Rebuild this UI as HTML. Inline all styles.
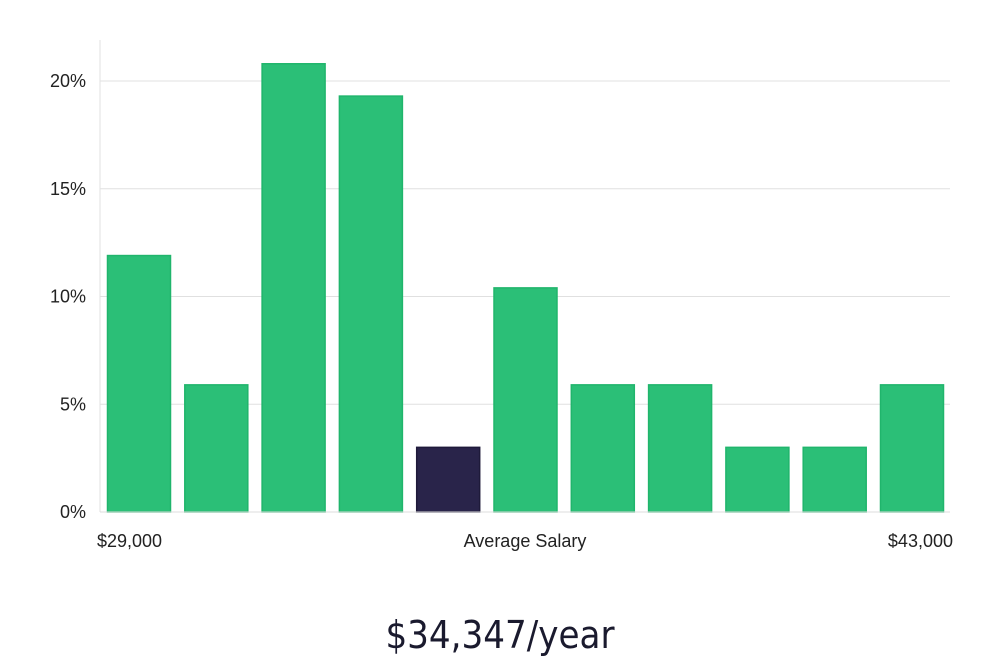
<!DOCTYPE html>
<html><head><meta charset="utf-8"><style>
body{margin:0;background:#fff;font-family:"Liberation Sans","DejaVu Sans",sans-serif;}
svg{display:block}
</style></head><body>
<svg id="chart" width="1000" height="660">
<g id="grid"></g><g id="bars"></g><g id="labels"></g>
<line x1="100" y1="40" x2="100" y2="512" stroke="#e2e2e2"/>
<line x1="100" y1="512" x2="950" y2="512" stroke="#dcdcdc"/>
<text x="97" y="547" font-size="18" fill="#222">$29,000</text>
<text x="525" y="547" font-size="18" fill="#222" text-anchor="middle">Average Salary</text>
<text x="953" y="547" font-size="18" fill="#222" text-anchor="end">$43,000</text>
<text x="500" y="648" font-size="38" fill="#1a1a2e" text-anchor="middle" font-family="'DejaVu Sans Condensed','DejaVu Sans',sans-serif" font-weight="300">$34,347/year</text>
</svg>
<script>
const values=[11.9,5.9,20.8,19.3,3.0,10.4,5.9,5.9,3.0,3.0,5.9];
const highlight=[false,false,false,false,true,false,false,false,false,false,false];
const ticks=[0,5,10,15,20];
const tickLabels=["0%","5%","10%","15%","20%"];
const NS="http://www.w3.org/2000/svg";
const y0=512,pxPer=(512-81)/20,x0=103.5,step=77.3,bw=63;
const y=v=>y0-v*pxPer;
const grid=document.getElementById('grid'),bars=document.getElementById('bars'),labels=document.getElementById('labels');
ticks.forEach((t,i)=>{
 const l=document.createElementNS(NS,'line');
 l.setAttribute('x1',100);l.setAttribute('x2',950);l.setAttribute('y1',y(t));l.setAttribute('y2',y(t));
 l.setAttribute('stroke','#e0e0e0');
 
 
 grid.appendChild(l);
 const tx=document.createElementNS(NS,'text');
 tx.setAttribute('x',86);tx.setAttribute('y',y(t)+6);tx.setAttribute('text-anchor','end');
 tx.setAttribute('font-size','18');tx.setAttribute('fill','#222');tx.textContent=tickLabels[i];
 
 
 labels.appendChild(tx);
});
values.forEach((v,i)=>{
 const r=document.createElementNS(NS,'rect');
 r.setAttribute('x',x0+i*step+4);r.setAttribute('width',bw);
 r.setAttribute('y',y(v));r.setAttribute('height',y0-y(v));
 r.setAttribute('fill',highlight[i]?'#29244a':'#2bbf77');
 r.setAttribute('stroke',highlight[i]?'#1e1a3a':'#20b56c');
 r.setAttribute('stroke-width','1.5');
 
 
 bars.appendChild(r);
});
</script>
</body></html>
